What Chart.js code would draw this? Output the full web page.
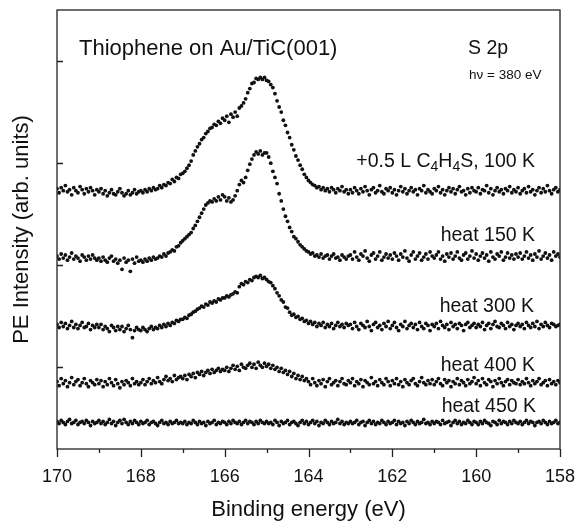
<!DOCTYPE html>
<html>
<head>
<meta charset="utf-8">
<title>Thiophene on Au/TiC(001) – S 2p</title>
<script src="https://cdn.jsdelivr.net/npm/chart.js@4.4.0/dist/chart.umd.min.js"></script>
<style>
  html, body { margin: 0; padding: 0; background: #fff; }
  #wrap { width: 579px; height: 525px; }
</style>
</head>
<body>
<div id="wrap"><canvas id="chart" width="579" height="525"></canvas></div>
<script>
// Binding energy grid of the spectra: 170 → 158 eV in 0.05 eV steps
const E_START = 170;
const E_STEP = 0.05;

const xTickValues = [170, 168, 166, 164, 162, 160, 158];
const yTickValues = [10, 20, 30, 40];

// Intensities (arb. units, stacked with offsets as in the figure), one line = 1 eV
const s100 = [
  27.5, 27.1, 27.6, 27.3, 27.8, 27.2, 27.4, 26.9, 27.6, 27.3, 27.1, 27.7, 27.4, 27.0, 27.5, 27.2, 27.6, 27.3, 26.9, 27.4,
  27.2, 27.5, 27.0, 27.3, 26.8, 27.1, 27.4, 27.0, 26.9, 27.2, 27.5, 27.1, 26.8, 27.0, 27.3, 26.9, 27.1, 27.4, 27.0, 27.2,
  27.3, 27.1, 27.4, 27.2, 27.5, 27.3, 27.6, 27.4, 27.5, 27.8, 27.6, 27.9, 27.8, 28.1, 28.0, 28.4, 28.2, 28.6, 28.5, 28.9,
  29.0, 29.2, 29.5, 29.8, 30.2, 30.8, 31.2, 31.6, 31.9, 32.3, 32.5, 32.9, 33.1, 33.4, 33.5, 33.8, 33.7, 34.1, 33.9, 34.4,
  34.2, 34.6, 34.0, 34.8, 34.5, 35.0, 34.6, 35.4, 35.6, 35.9, 36.3, 36.9, 37.3, 37.8, 37.9, 38.3, 38.2, 38.4, 38.2, 38.4,
  38.1, 38.0, 37.7, 37.4, 36.8, 36.1, 35.5, 35.0, 34.2, 33.7, 33.0, 32.5, 31.8, 31.3, 30.7, 30.3, 29.8, 29.4, 28.9, 28.6,
  28.3, 28.1, 27.9, 27.8, 27.6, 27.7, 27.4, 27.6, 27.3, 27.5, 27.2, 27.6, 27.4, 27.1, 27.5, 27.3, 27.7, 27.2, 27.4, 27.0,
  27.4, 27.1, 27.6, 27.3, 27.0, 27.5, 27.2, 27.7, 27.3, 26.9, 27.4, 27.6, 27.1, 27.3, 27.8, 27.2, 27.0, 27.5, 27.3, 27.6,
  27.1, 27.4, 26.9, 27.3, 27.7, 27.2, 27.5, 27.0, 27.3, 27.6, 27.2, 27.4, 26.9, 27.5, 27.3, 27.8, 27.1, 27.4, 27.2, 27.0,
  27.5, 27.3, 27.7, 27.1, 27.4, 26.9, 27.3, 27.6, 27.2, 27.5, 27.0, 27.4, 27.7, 27.2, 27.3, 26.9, 27.5, 27.1, 27.6, 27.3,
  27.2, 27.6, 27.0, 27.4, 27.3, 27.8, 27.1, 27.5, 26.9, 27.3, 27.6, 27.2, 27.4, 27.0, 27.5, 27.3, 27.7, 27.1, 27.4, 27.2,
  27.6, 27.0, 27.3, 27.5, 27.1, 27.7, 27.2, 27.4, 26.9, 27.3, 27.6, 27.1, 27.5, 27.2, 27.8, 27.3, 27.0, 27.4, 27.6, 27.2,
  27.4
];

const s150 = [
  20.9, 20.6, 21.1, 20.7, 21.0, 20.5, 20.8, 21.2, 20.6, 20.9, 20.7, 20.4, 21.0, 20.8, 20.5, 20.9, 20.6, 21.0, 20.7, 20.5,
  20.7, 20.4, 20.8, 20.5, 20.3, 20.7, 20.9, 20.4, 20.6, 20.2, 20.5, 19.6, 20.7, 20.3, 20.5, 19.4, 20.6, 20.2, 20.8, 20.4,
  20.5, 20.3, 20.6, 20.4, 20.7, 20.5, 20.8, 20.6, 20.7, 20.9, 20.8, 21.1, 20.9, 21.2, 21.3, 21.5, 21.4, 21.8, 21.9, 22.2,
  22.4, 22.6, 22.8, 23.0, 23.2, 23.6, 23.9, 24.3, 24.7, 25.1, 25.5, 25.9, 26.1, 26.3, 26.2, 26.5, 26.3, 26.7, 26.4, 26.9,
  26.7, 26.3, 26.6, 26.2, 26.4, 26.8, 27.3, 27.9, 28.3, 28.1, 28.6, 29.3, 29.9, 30.4, 30.8, 31.1, 30.9, 31.2, 30.8, 31.0,
  31.0, 30.6, 30.0, 29.2, 28.6, 28.0, 27.0, 26.3, 25.5, 24.8, 24.3, 23.7, 23.3, 22.8, 22.6, 22.3, 22.0, 21.8, 21.6, 21.4,
  21.3, 21.1, 21.2, 20.9, 21.0, 20.8, 21.1, 20.7, 20.9, 21.0, 20.6, 20.9, 21.1, 20.7, 20.8, 20.5, 21.0, 20.8, 20.6, 20.9,
  21.0, 20.6, 21.3, 20.8, 20.5, 21.1, 20.9, 21.4, 20.7, 20.4, 21.0, 21.2, 20.6, 20.9, 21.3, 20.5, 20.8, 21.1, 20.7, 21.0,
  20.6, 21.2, 20.9, 20.5, 21.1, 20.8, 21.4, 20.7, 20.4, 21.0, 21.3, 20.6, 20.9, 21.2, 20.5, 20.8, 21.1, 20.6, 21.3, 20.9,
  20.7, 21.0, 21.3, 20.6, 20.9, 20.4, 21.1, 20.8, 21.2, 20.6, 20.9, 21.3, 20.7, 20.5, 21.0, 21.2, 20.6, 20.9, 21.4, 20.7,
  21.1, 20.5, 20.9, 21.2, 20.7, 21.0, 20.4, 21.3, 20.8, 20.6, 21.1, 20.9, 21.3, 20.5, 20.8, 21.2, 20.7, 21.0, 20.6, 21.1,
  20.8, 21.2, 20.6, 20.9, 21.3, 20.7, 21.0, 20.5, 21.1, 20.8, 21.4, 20.6, 20.9, 21.2, 20.7, 21.0, 20.5, 21.3, 20.9, 21.1,
  20.8
];

const s300 = [
  14.2, 13.9, 14.4, 14.0, 14.3, 13.8, 14.1, 14.5, 13.9, 14.2, 13.8, 14.1, 14.4, 13.9, 14.0, 14.3, 13.7, 14.1, 13.9, 14.2,
  13.9, 14.2, 13.7, 14.0, 13.8, 13.5, 14.1, 13.9, 13.6, 14.0, 13.7, 14.0, 13.5, 13.8, 14.1, 13.7, 12.9, 13.6, 13.9, 13.7,
  13.6, 13.9, 13.7, 13.5, 13.8, 14.0, 13.7, 13.9, 13.8, 14.1, 13.9, 14.2, 14.0, 14.3, 14.1, 14.4, 14.3, 14.6, 14.5, 14.7,
  14.7, 14.9, 14.8, 15.1, 15.2, 15.4, 15.5, 15.7, 15.8, 16.0, 15.9, 16.2, 16.1, 16.4, 16.3, 16.5, 16.4, 16.7, 16.6, 16.8,
  16.8, 17.0, 16.9, 17.1, 17.2, 17.4, 17.3, 17.9, 18.2, 18.1, 18.4, 18.3, 18.6, 18.5, 18.8, 18.9, 18.8, 19.0, 18.7, 18.8,
  18.6, 18.4, 18.3, 18.0, 17.7, 17.3, 17.0, 16.6, 16.4, 15.9, 15.8, 15.4, 15.1, 15.2, 14.9, 15.0, 14.7, 14.8, 14.5, 14.6,
  14.3, 14.5, 14.2, 14.4, 14.0, 14.3, 14.1, 14.4, 13.9, 14.2, 14.0, 14.3, 13.8, 14.1, 14.4, 14.0, 14.2, 13.9, 14.3, 14.1,
  14.2, 13.8, 14.4, 14.0, 13.7, 14.3, 14.1, 13.9, 14.5, 14.0, 13.6, 14.2, 14.4, 13.9, 14.1, 13.7, 14.3, 14.0, 14.5, 13.8,
  14.1, 14.4, 13.9, 13.6, 14.2, 14.0, 14.5, 13.8, 14.1, 14.3, 13.9, 14.2, 13.7, 14.4, 14.0, 13.8, 14.3, 14.1, 13.6, 14.2,
  14.0, 14.3, 13.8, 14.5, 14.1, 13.9, 14.2, 13.7, 14.4, 14.0, 14.2, 13.8, 14.3, 14.1, 13.6, 14.2, 14.4, 13.9, 14.1, 14.3,
  13.9, 14.2, 14.0, 14.4, 13.7, 14.1, 14.3, 13.8, 14.2, 14.5, 14.0, 13.9, 14.3, 14.1, 13.8, 14.4, 14.0, 14.2, 13.7, 14.1,
  14.3, 14.0, 14.2, 13.8, 14.4, 14.1, 13.9, 14.3, 14.0, 14.5, 13.8, 14.2, 14.0, 14.4, 14.1, 13.9, 14.3, 14.2, 14.0, 14.1,
  14.2
];

const s400 = [
  8.6, 8.2, 8.9, 8.4, 8.7, 8.1, 8.5, 9.0, 8.3, 8.6, 8.8, 8.2, 8.5, 8.9, 8.4, 8.1, 8.7, 8.5, 8.3, 8.8,
  8.4, 8.7, 8.1, 8.6, 8.3, 8.9, 8.5, 8.2, 8.8, 8.4, 8.0, 8.6, 8.3, 8.7, 8.5, 8.2, 8.9, 8.4, 8.6, 8.3,
  8.5, 8.8, 8.3, 8.6, 8.9, 8.4, 8.7, 8.5, 9.0, 8.6, 8.4, 8.8, 9.1, 8.7, 8.9, 8.6, 9.2, 8.8, 9.0, 9.1,
  8.9, 9.2, 8.8, 9.3, 9.1, 9.4, 9.0, 9.5, 9.3, 9.6, 9.2, 9.5, 9.7, 9.4, 9.8, 9.5, 9.7, 9.9, 9.6, 9.8,
  9.7, 10.0, 9.6, 9.9, 10.2, 9.8, 10.1, 9.7, 10.3, 10.0, 9.9, 10.2, 10.4, 10.0, 10.3, 9.9, 10.5, 10.2, 10.0, 10.4,
  10.1, 10.3, 9.9, 10.2, 9.8, 10.0, 9.6, 9.9, 9.5, 9.7, 9.3, 9.6, 9.1, 9.4, 8.9, 9.2, 8.8, 9.1, 8.7, 8.9,
  8.6, 8.3, 8.9, 8.5, 8.2, 8.7, 8.4, 8.8, 8.1, 8.6, 8.9, 8.3, 8.5, 8.7, 8.2, 8.6, 8.9, 8.4, 8.3, 8.7,
  8.5, 8.9, 8.2, 8.6, 8.4, 8.8, 8.1, 8.7, 8.5, 8.3, 9.0, 8.4, 8.6, 8.2, 8.8, 8.5, 8.3, 8.9, 8.6, 8.2,
  8.7, 8.4, 8.9, 8.3, 8.6, 8.1, 8.8, 8.5, 8.3, 8.7, 8.9, 8.4, 8.2, 8.6, 9.0, 8.5, 8.3, 8.7, 8.4, 8.8,
  8.3, 8.6, 8.9, 8.4, 8.2, 8.8, 8.5, 8.7, 8.1, 8.6, 8.4, 8.9, 8.3, 8.7, 8.5, 8.2, 8.8, 8.4, 8.6, 9.0,
  8.4, 8.7, 8.2, 8.9, 8.5, 8.3, 8.8, 8.6, 8.1, 8.7, 8.4, 8.9, 8.5, 8.2, 8.6, 8.8, 8.3, 8.7, 8.5, 8.4,
  8.8, 8.3, 8.6, 8.4, 8.9, 8.5, 8.2, 8.7, 8.4, 8.6, 8.9, 8.3, 8.5, 8.7, 8.2, 8.8, 8.4, 8.6, 8.3, 8.7,
  8.5
];

const s450 = [
  4.7, 4.5, 4.8, 4.6, 4.4, 4.7, 4.9, 4.5, 4.6, 4.8, 4.4, 4.6, 4.7, 4.5, 4.8, 4.6, 4.3, 4.7, 4.5, 4.6,
  4.8, 4.5, 4.7, 4.4, 4.6, 4.9, 4.5, 4.7, 4.3, 4.6, 4.8, 4.5, 4.9, 4.6, 4.4, 4.7, 4.5, 4.8, 4.6, 4.4,
  4.7, 4.5, 4.6, 4.8, 4.4, 4.6, 4.7, 4.5, 4.3, 4.6, 4.8, 4.5, 4.6, 4.4, 4.7, 4.5, 4.6, 4.8, 4.5, 4.6,
  4.5, 4.7, 4.4, 4.6, 4.5, 4.8, 4.6, 4.4, 4.7, 4.5, 4.6, 4.3, 4.7, 4.5, 4.6, 4.8, 4.4, 4.6, 4.5, 4.7,
  4.6, 4.4, 4.7, 4.5, 4.8, 4.6, 4.5, 4.7, 4.4, 4.6, 4.8, 4.5, 4.7, 4.6, 4.4, 4.7, 4.5, 4.8, 4.6, 4.5,
  4.7, 4.5, 4.6, 4.4, 4.8, 4.6, 4.3, 4.7, 4.5, 4.6, 4.8, 4.4, 4.6, 4.7, 4.5, 4.3, 4.6, 4.8, 4.5, 4.7,
  4.4, 4.6, 4.8, 4.5, 4.7, 4.3, 4.6, 4.5, 4.8, 4.6, 4.4, 4.7, 4.5, 4.6, 4.9, 4.5, 4.7, 4.4, 4.6, 4.5,
  4.7, 4.5, 4.6, 4.8, 4.4, 4.6, 4.7, 4.3, 4.6, 4.8, 4.5, 4.7, 4.4, 4.6, 4.5, 4.8, 4.6, 4.4, 4.7, 4.5,
  4.6, 4.8, 4.4, 4.7, 4.5, 4.6, 4.3, 4.7, 4.5, 4.8, 4.6, 4.4, 4.7, 4.5, 4.6, 4.9, 4.5, 4.6, 4.4, 4.7,
  4.5, 4.7, 4.6, 4.4, 4.8, 4.5, 4.6, 4.7, 4.3, 4.6, 4.8, 4.5, 4.7, 4.4, 4.6, 4.5, 4.8, 4.6, 4.4, 4.7,
  4.6, 4.4, 4.7, 4.5, 4.8, 4.6, 4.5, 4.3, 4.7, 4.6, 4.4, 4.8, 4.5, 4.7, 4.6, 4.4, 4.7, 4.5, 4.8, 4.6,
  4.5, 4.7, 4.4, 4.6, 4.8, 4.5, 4.7, 4.6, 4.3, 4.6, 4.7, 4.5, 4.8, 4.6, 4.4, 4.7, 4.5, 4.6, 4.8, 4.5,
  4.6
];

const seriesList = [s100, s150, s300, s400, s450];

const FONT = '"Liberation Sans", Arial, Helvetica, sans-serif';
const INK = '#111';

function toPoints(values) {
    return values.map((v, i) => ({ x: E_START - i * E_STEP, y: v }));
}

// ─── Frame, inward y ticks, outward x ticks and in-plot annotations ───

function drawRich(ctx, parts, rightX, baseY, size) {
    // parts: [text, isSubscript]
    const widths = parts.map(([t, sub]) => {
        ctx.font = `${sub ? size * 0.72 : size}px ${FONT}`;
        return ctx.measureText(t).width;
    });
    let x = rightX - widths.reduce((a, b) => a + b, 0);
    parts.forEach(([t, sub], i) => {
        ctx.font = `${sub ? size * 0.72 : size}px ${FONT}`;
        ctx.fillText(t, x, sub ? baseY + size * 0.22 : baseY);
        x += widths[i];
    });
}

const decorations = {
    id: 'decorations',
    afterDatasetsDraw(chart) {
        const { ctx, chartArea: a, scales: { x, y } } = chart;
        ctx.save();
        ctx.strokeStyle = '#222';
        ctx.lineWidth = 1.3;
        ctx.strokeRect(a.left, a.top, a.right - a.left, a.bottom - a.top);

        ctx.beginPath();
        x.ticks.forEach(t => {
            const px = Math.round(x.getPixelForValue(t.value)) + 0.5;
            const len = t.value % 2 === 0 ? 8 : 4;
            ctx.moveTo(px, a.bottom);
            ctx.lineTo(px, a.bottom + len);
        });
        yTickValues.forEach(v => {
            const py = Math.round(y.getPixelForValue(v)) + 0.5;
            ctx.moveTo(a.left, py);
            ctx.lineTo(a.left + 6, py);
        });
        ctx.stroke();

        ctx.fillStyle = INK;
        ctx.textBaseline = 'alphabetic';
        ctx.textAlign = 'left';
        ctx.font = `22px ${FONT}`;
        ctx.fillText('Thiophene on Au/TiC(001)', 79, 55);
        ctx.font = `19.5px ${FONT}`;
        ctx.fillText('S 2p', 468, 54);
        ctx.font = `13.5px ${FONT}`;
        ctx.fillText('h\u03bd = 380 eV', 469, 79);

        drawRich(ctx, [['+0.5 L C', false], ['4', true], ['H', false], ['4', true], ['S, 100 K', false]], 535, 166.5, 19.5);
        ctx.textAlign = 'right';
        ctx.font = `19.5px ${FONT}`;
        ctx.fillText('heat 150 K', 535, 240.5);
        ctx.fillText('heat 300 K', 534, 312);
        ctx.fillText('heat 400 K', 535, 370.5);
        ctx.fillText('heat 450 K', 536, 412);
        ctx.restore();
    }
};

new Chart(document.getElementById('chart'), {
    type: 'scatter',
    data: {
        datasets: seriesList.map(values => ({
            data: toPoints(values),
            showLine: false,
            pointRadius: 1.9,
            pointBorderWidth: 0,
            pointBackgroundColor: INK
        }))
    },
    options: {
        responsive: false,
        animation: false,
        events: [],
        layout: { padding: { top: 10, right: 19, left: 0, bottom: 0 } },
        plugins: { legend: { display: false }, tooltip: { enabled: false } },
        scales: {
            x: {
                type: 'linear',
                min: 158, max: 170,
                reverse: true,
                border: { display: false },
                grid: { display: false, drawTicks: true, tickLength: 8 },
                ticks: {
                    stepSize: 1,
                    autoSkip: false,
                    maxRotation: 0,
                    padding: 9,
                    color: INK,
                    font: { family: FONT, size: 18 },
                    callback: v => xTickValues.includes(v) ? String(v) : ''
                },
                title: {
                    display: true,
                    text: 'Binding energy (eV)',
                    color: INK,
                    font: { family: FONT, size: 22 },
                    padding: { top: 0, bottom: 2 }
                },
                afterFit: scale => {
                    scale.height = 76;
                    scale.paddingLeft = 0;
                    scale.paddingRight = 0;
                }
            },
            y: {
                type: 'linear',
                min: 2, max: 45,
                border: { display: false },
                grid: { display: false, drawTicks: false },
                ticks: { display: false, stepSize: 10 },
                title: {
                    display: true,
                    text: 'PE Intensity (arb. units)',
                    color: INK,
                    font: { family: FONT, size: 22 },
                    padding: { top: 9, bottom: 0 }
                },
                afterFit: scale => { scale.width = 57; }
            }
        }
    },
    plugins: [decorations]
});
</script>
</body>
</html>
